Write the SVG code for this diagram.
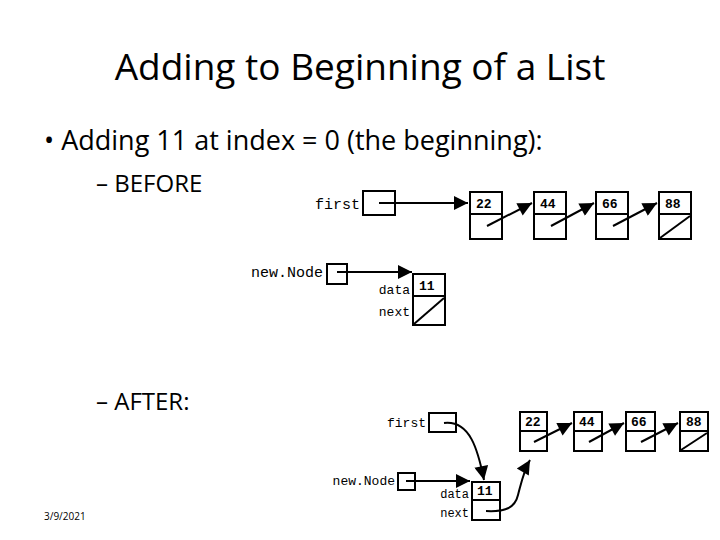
<svg xmlns="http://www.w3.org/2000/svg" width="720" height="540" viewBox="0 0 720 540">
<defs>
<style>
.t{font-family:"Open Sans","Liberation Sans",sans-serif;fill:#000}
.m{font-family:"Liberation Mono",monospace;fill:#000}
.b{fill:#fff;stroke:#000;stroke-width:2}
.l{fill:none;stroke:#000;stroke-width:2}
.v{font-family:"Liberation Mono",monospace;font-weight:bold;font-size:13px}
</style>
<marker id="a" viewBox="0 0 10 10" refX="10" refY="5" markerWidth="10" markerHeight="7" orient="auto" markerUnits="strokeWidth"><path d="M0,0L10,5L0,10z"/></marker>
</defs>
<rect width="720" height="540" fill="#fff"/>
<text class="t" x="360" y="80" font-size="37" text-anchor="middle">Adding to Beginning of a List</text>
<text class="t" x="44" y="150" font-size="27">• Adding 11 at index = 0 (the beginning):</text>
<text class="t" x="96" y="192" font-size="24">– BEFORE</text>
<text class="t" x="96" y="410" font-size="24">– AFTER:</text>
<text class="t" x="44" y="520" font-size="10" fill="#666">3/9/2021</text>
<g id="before">
<g id="b-first"><text class="m" x="360" y="209" font-size="15" text-anchor="end">first</text><rect class="b" x="363" y="191" width="32" height="24"/></g>
<g id="b-22"><rect class="b" x="470" y="192" width="32" height="47"/><line class="l" x1="470" y1="214" x2="502" y2="214"/><text class="v" x="476" y="208">22</text></g>
<g id="b-44"><rect class="b" x="534" y="192" width="32" height="47"/><line class="l" x1="534" y1="214" x2="566" y2="214"/><text class="v" x="540" y="208">44</text></g>
<g id="b-66"><rect class="b" x="596" y="192" width="32" height="47"/><line class="l" x1="596" y1="214" x2="628" y2="214"/><text class="v" x="602" y="208">66</text></g>
<g id="b-88"><rect class="b" x="659" y="192" width="32" height="47"/><line class="l" x1="659" y1="214" x2="691" y2="214"/><text class="v" x="665" y="208">88</text><line class="l" x1="660" y1="238" x2="690" y2="216"/></g>
<g id="b-newNode"><text class="m" x="323" y="277" font-size="15" text-anchor="end">new.Node</text><rect class="b" x="327" y="264" width="20" height="20"/></g>
<g id="b-11"><rect class="b" x="413" y="274" width="32" height="51"/><line class="l" x1="413" y1="296" x2="445" y2="296"/><text class="v" x="419" y="290">11</text><line class="l" x1="414" y1="324" x2="444" y2="298"/><text class="m" x="410" y="294" font-size="13" text-anchor="end">data</text><text class="m" x="410" y="316" font-size="13" text-anchor="end">next</text></g>
</g>
<g id="after">
<g id="a-first"><text class="m" x="426" y="427" font-size="13" text-anchor="end">first</text><rect class="b" x="429" y="413" width="27" height="19"/></g>
<g id="a-22"><rect class="b" x="520" y="412" width="27" height="39"/><line class="l" x1="520" y1="431" x2="547" y2="431"/><text class="v" x="525" y="426" font-size="11">22</text></g>
<g id="a-44"><rect class="b" x="574" y="412" width="28" height="39"/><line class="l" x1="574" y1="431" x2="602" y2="431"/><text class="v" x="579" y="426" font-size="11">44</text></g>
<g id="a-66"><rect class="b" x="626" y="412" width="29" height="39"/><line class="l" x1="626" y1="431" x2="655" y2="431"/><text class="v" x="631" y="426" font-size="11">66</text></g>
<g id="a-88"><rect class="b" x="680" y="412" width="28" height="39"/><line class="l" x1="680" y1="431" x2="708" y2="431"/><text class="v" x="686" y="426" font-size="11">88</text><line class="l" x1="681" y1="450" x2="707" y2="433"/></g>
<g id="a-newNode"><text class="m" x="395" y="485" font-size="13" text-anchor="end">new.Node</text><rect class="b" x="398" y="473" width="17" height="17"/></g>
<g id="a-11"><rect class="b" x="472" y="482" width="28" height="38"/><line class="l" x1="472" y1="500" x2="500" y2="500"/><text class="v" x="477" y="495" font-size="11">11</text><text class="m" x="469" y="498" font-size="12" text-anchor="end">data</text><text class="m" x="469" y="517" font-size="12" text-anchor="end">next</text></g>
</g>
<g id="connectors">
<line class="l" x1="379" y1="203" x2="468" y2="203" marker-end="url(#a)"/>
<line class="l" x1="487" y1="226" x2="532" y2="203" marker-end="url(#a)"/>
<line class="l" x1="551" y1="226" x2="594" y2="203" marker-end="url(#a)"/>
<line class="l" x1="613" y1="226" x2="657" y2="203" marker-end="url(#a)"/>
<line class="l" x1="337" y1="272" x2="412" y2="272" marker-end="url(#a)"/>
<path class="l" d="M444,423 C470,420 478,450 484,480" marker-end="url(#a)"/>
<line class="l" x1="406" y1="481" x2="470" y2="481" marker-end="url(#a)"/>
<path class="l" d="M486,511 C505,512 515,508 518,495 C522,480 524,470 530,460" marker-end="url(#a)"/>
<line class="l" x1="534" y1="442" x2="572" y2="423" marker-end="url(#a)"/>
<line class="l" x1="589" y1="442" x2="624" y2="423" marker-end="url(#a)"/>
<line class="l" x1="641" y1="442" x2="678" y2="423" marker-end="url(#a)"/>
</g>
</svg>
